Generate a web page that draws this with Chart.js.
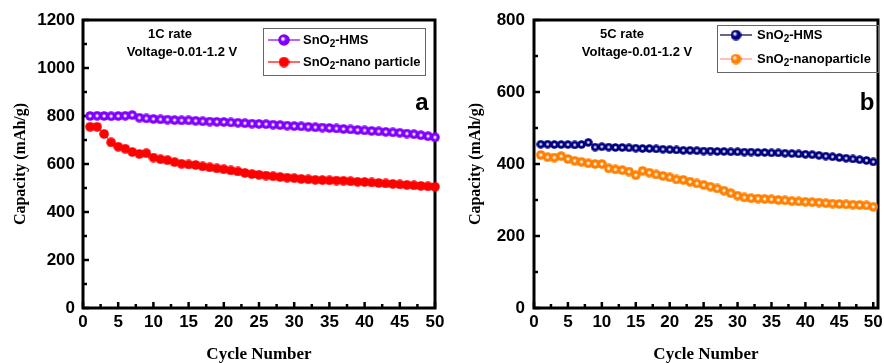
<!DOCTYPE html>
<html>
<head>
<meta charset="utf-8">
<script src="https://cdn.jsdelivr.net/npm/chart.js@4.4.0/dist/chart.umd.min.js"></script>
<style>
html, body { margin: 0; padding: 0; background: #fff; }
#wrap { position: relative; width: 884px; height: 363px; overflow: hidden; }
#chartA { position: absolute; left: 0; top: 0; }
#chartB { position: absolute; left: 450px; top: 0; }
</style>
</head>
<body>
<div id="wrap">
  <canvas id="chartA" width="450" height="363"></canvas>
  <canvas id="chartB" width="434" height="363"></canvas>
</div>
<script>
// Cycle numbers (shared by both panels)
const cycles = [1, 2, 3, 4, 5, 6, 7, 8, 9, 10, 11, 12, 13, 14, 15, 16, 17, 18, 19, 20,
  21, 22, 23, 24, 25, 26, 27, 28, 29, 30, 31, 32, 33, 34, 35, 36, 37, 38, 39, 40,
  41, 42, 43, 44, 45, 46, 47, 48, 49, 50];

// Panel a - 1C rate
const hmsA = [800, 801, 800, 799, 800, 801, 804, 793, 790, 788, 786, 785, 783, 782, 782, 780, 778, 777, 776, 775,
  773, 772, 770, 768, 767, 766, 764, 762, 760, 758, 757, 755, 753, 752, 750, 748, 746, 744, 742, 740,
  738, 736, 734, 732, 730, 727, 724, 720, 716, 711];
const nanoA = [755, 755, 725, 690, 672, 664, 650, 642, 645, 627, 620, 616, 608, 601, 598, 596, 590, 586, 582, 578,
  573, 569, 563, 558, 555, 552, 549, 546, 543, 541, 538, 536, 534, 533, 532, 531, 530, 528, 526, 525,
  523, 521, 519, 517, 515, 513, 511, 509, 507, 505];

// Panel b - 5C rate
const hmsB = [455, 455, 454, 454, 454, 453, 454, 460, 447, 448, 447, 446, 446, 445, 444, 443, 443, 442, 441, 440,
  439, 438, 438, 437, 436, 436, 435, 435, 434, 434, 433, 433, 432, 432, 431, 431, 430, 429, 428, 427,
  426, 424, 422, 420, 418, 416, 414, 412, 410, 406];
const nanoB = [425, 419, 418, 422, 414, 409, 406, 402, 400, 400, 388, 385, 383, 379, 369, 381, 376, 371, 367, 363,
  357, 356, 351, 346, 342, 337, 332, 326, 319, 312, 307, 305, 304, 303, 302, 300, 299, 297, 296, 295,
  294, 293, 291, 290, 289, 288, 287, 286, 285, 281];

// Axis ticks
const xTicks = [0, 5, 10, 15, 20, 25, 30, 35, 40, 45, 50];
const xMinor = [2.5, 7.5, 12.5, 17.5, 22.5, 27.5, 32.5, 37.5, 42.5, 47.5];
const yTicksA = [0, 200, 400, 600, 800, 1000, 1200];
const yMinorA = [100, 300, 500, 700, 900, 1100];
const yTicksB = [0, 200, 400, 600, 800];
const yMinorB = [100, 300, 500, 700];

const seriesLabels = ['SnO₂-HMS', 'SnO₂-nano particle', 'SnO₂-nanoparticle'];

const SANS = '"Liberation Sans", Arial, sans-serif';
const SERIF = '"Liberation Serif", "Times New Roman", serif';

// shaded ball marker
function sphere(color, d, shine, offset) {
  const c = document.createElement('canvas');
  c.width = d; c.height = d;
  const g = c.getContext('2d');
  const r = d / 2;
  if (shine) {
    const hx = r - (offset || 0), hy = r - (offset || 0);
    const grad = g.createRadialGradient(hx, hy, 0, r, r, r);
    grad.addColorStop(0, '#ffffff');
    grad.addColorStop(0.12, '#ffffff');
    grad.addColorStop(0.45, color);
    grad.addColorStop(1, color);
    g.fillStyle = grad;
  } else {
    g.fillStyle = color;
  }
  g.beginPath();
  g.arc(r, r, r - 0.2, 0, Math.PI * 2);
  g.fill();
  return c;
}

function subText(ctx, text, x, y, size) {
  const parts = text.split('₂');
  ctx.font = 'bold ' + size + 'px ' + SANS;
  ctx.fillText(parts[0], x, y);
  x += ctx.measureText(parts[0]).width;
  if (parts.length > 1) {
    ctx.font = 'bold ' + Math.round(size * 0.8) + 'px ' + SANS;
    ctx.fillText('2', x, y + size * 0.3);
    x += ctx.measureText('2').width;
    ctx.font = 'bold ' + size + 'px ' + SANS;
    ctx.fillText(parts[1], x, y);
  }
}

const panelDecor = {
  id: 'panelDecor',
  beforeDatasetsDraw(chart, args, opts) {
    const { ctx, chartArea: a, scales: { x, y } } = chart;
    ctx.save();
    ctx.strokeStyle = '#000';
    ctx.lineWidth = 2.5;
    const seg = (x1, y1, x2, y2) => { ctx.beginPath(); ctx.moveTo(x1, y1); ctx.lineTo(x2, y2); ctx.stroke(); };
    opts.yMajor.forEach(v => { const p = y.getPixelForValue(v); seg(a.left, p, a.left + 6, p); });
    opts.yMinor.forEach(v => { const p = y.getPixelForValue(v); seg(a.left, p, a.left + 4, p); });
    xTicks.forEach(v => { const p = x.getPixelForValue(v); seg(p, a.bottom, p, a.bottom - 6); });
    xMinor.forEach(v => { const p = x.getPixelForValue(v); seg(p, a.bottom, p, a.bottom - 4); });
    ctx.lineWidth = 3;
    ctx.strokeRect(a.left, a.top, a.right - a.left, a.bottom - a.top);
    ctx.restore();
  },
  afterDraw(chart, args, opts) {
    const ctx = chart.ctx;
    ctx.save();
    ctx.fillStyle = '#000';
    ctx.textBaseline = 'middle';
    ctx.textAlign = 'center';
    ctx.font = 'bold 13px ' + SANS;
    ctx.fillText(opts.rate, opts.rateX, 34);
    ctx.fillText('Voltage-0.01-1.2 V', opts.voltX, 52);
    ctx.font = 'bold 24px ' + SANS;
    ctx.fillText(opts.letter, opts.letterX, 103);

    // legend
    const L = opts.legend;
    ctx.strokeStyle = '#666';
    ctx.lineWidth = 1;
    ctx.strokeRect(L.x + 0.5, L.y + 0.5, L.w, L.h);
    ctx.textAlign = 'left';
    chart.data.datasets.forEach((ds, i) => {
      const ly = L.rows[i];
      ctx.strokeStyle = L.lineColors[i];
      ctx.lineWidth = 1.2;
      ctx.beginPath();
      ctx.moveTo(L.lineX1, ly);
      ctx.lineTo(L.lineX2, ly);
      ctx.stroke();
      const img = L.marks[i];
      ctx.drawImage(img, (L.lineX1 + L.lineX2) / 2 - img.width / 2, ly - img.height / 2);
      ctx.fillStyle = '#000';
      subText(ctx, ds.label, L.textX, ly, 13);
    });
    ctx.restore();
  }
};

function makePanel(id, cfg) {
  const pts = arr => cycles.map((c, i) => ({ x: c, y: arr[i] }));
  return new Chart(document.getElementById(id), {
    type: 'line',
    data: {
      datasets: [
        {
          label: cfg.labels[0], data: pts(cfg.hms), borderColor: cfg.colors[0], borderWidth: 1,
          pointStyle: cfg.marks[0], pointRadius: 5, clip: false
        },
        {
          label: cfg.labels[1], data: pts(cfg.nano), borderColor: cfg.colors[1], borderWidth: 1,
          pointStyle: cfg.marks[1], pointRadius: 5, clip: false
        }
      ]
    },
    options: {
      responsive: false,
      animation: false,
      layout: { padding: { left: 0, top: 20, right: cfg.padRight, bottom: 0 } },
      plugins: {
        legend: { display: false },
        tooltip: { enabled: false },
        panelDecor: cfg.decor
      },
      scales: {
        x: {
          type: 'linear', min: 0, max: cfg.xMax,
          grid: { display: false, drawTicks: false },
          border: { display: false },
          ticks: {
            color: '#000', padding: 4, maxRotation: 0,
            font: { family: SANS, size: 17, weight: 'bold' },
            callback: v => String(v)
          },
          afterBuildTicks: s => { s.ticks = xTicks.map(v => ({ value: v })); },
          afterFit: s => { s.height = 55; s.paddingLeft = 0; s.paddingRight = 0; },
          title: {
            display: true, text: 'Cycle Number', color: '#000',
            font: { family: SERIF, size: 17, weight: 'bold', lineHeight: 1 },
            padding: { top: 0, bottom: 0 }
          }
        },
        y: {
          min: 0, max: cfg.yMax,
          grid: { display: false, drawTicks: false },
          border: { display: false },
          ticks: {
            color: '#000', padding: cfg.yPad,
            font: { family: SANS, size: 17, weight: 'bold' },
            callback: v => String(v)
          },
          afterBuildTicks: s => { s.ticks = cfg.yMajor.map(v => ({ value: v })); },
          afterFit: s => { s.width = cfg.yWidth; s.paddingTop = 0; s.paddingBottom = 0; },
          title: {
            display: true, text: 'Capacity (mAh/g)', color: '#000',
            font: { family: SERIF, size: 16, weight: 'bold', lineHeight: 1 },
            padding: { top: cfg.yTitlePad, bottom: 0 }
          }
        }
      }
    },
    plugins: [panelDecor]
  });
}

makePanel('chartA', {
  hms: hmsA, nano: nanoA,
  labels: [seriesLabels[0], seriesLabels[1]],
  colors: ['#8000ff', '#ff0000'],
  marks: [sphere('#8000ff', 10, true), sphere('#ff0000', 10, false)],
  xMax: 50, yMax: 1200, yMajor: yTicksA,
  padRight: 15, yWidth: 83, yPad: 8, yTitlePad: 13,
  decor: {
    yMajor: yTicksA, yMinor: yMinorA,
    rate: '1C rate', rateX: 170, voltX: 182, letter: 'a', letterX: 422,
    legend: {
      x: 263, y: 28, w: 162, h: 47, rows: [40, 62], lineX1: 268, lineX2: 300, textX: 303,
      lineColors: ['#8000ff', '#ff0000'],
      marks: [sphere('#8000ff', 12, true, 1.5), sphere('#ff0000', 11, false)]
    }
  }
});

makePanel('chartB', {
  hms: hmsB, nano: nanoB,
  labels: [seriesLabels[0], seriesLabels[2]],
  colors: ['#000080', '#ff8000'],
  marks: [sphere('#000080', 9, true), sphere('#ff8000', 10, true)],
  xMax: 50.7, yMax: 800, yMajor: yTicksB,
  padRight: 1, yWidth: 84, yPad: 9, yTitlePad: 18,
  decor: {
    yMajor: yTicksB, yMinor: yMinorB,
    rate: '5C rate', rateX: 172, voltX: 187, letter: 'b', letterX: 417,
    legend: {
      x: 267, y: 25, w: 161, h: 47, rows: [35, 59], lineX1: 270, lineX2: 302, textX: 307,
      lineColors: ['#000040', '#ff9090'],
      marks: [sphere('#000080', 11, true, 1.5), sphere('#ff8000', 11, true, 1.5)]
    }
  }
});
</script>
</body>
</html>
